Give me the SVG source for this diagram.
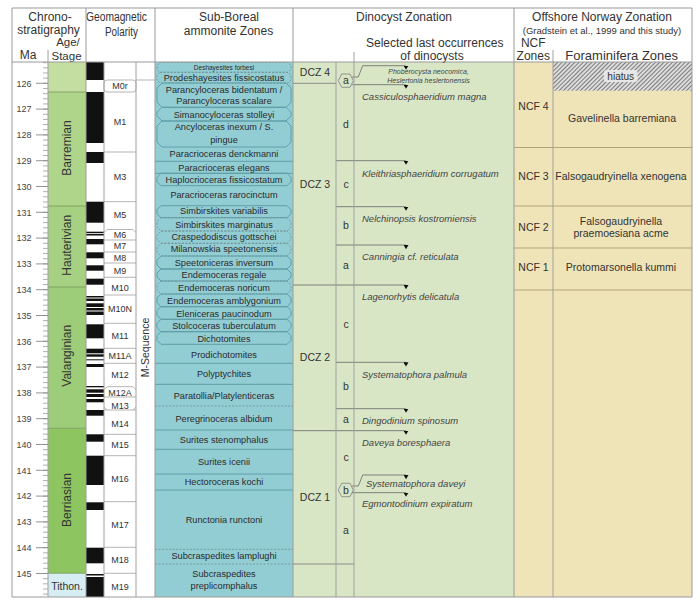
<svg xmlns="http://www.w3.org/2000/svg" width="700" height="607" viewBox="0 0 700 607">
<defs>
<style>
text{font-family:"Liberation Sans",Arial,sans-serif;fill:#333}
.h{font-size:12px;text-anchor:middle}
.ma{font-size:9px;text-anchor:middle;fill:#444}
.st{font-size:12px;text-anchor:middle}
.mc{font-size:9px;text-anchor:middle}
.am{font-size:9.2px;text-anchor:middle;fill:#2a2a2a}
.dz{font-size:10.5px;text-anchor:middle}
.sp{font-size:9.5px;font-style:italic;fill:#444}
.nc{font-size:10.5px;text-anchor:middle}
.grid{stroke:#9a9a9a;stroke-width:1;fill:none}
.zl{stroke:#5f9ea7;stroke-width:1;fill:none}
.zd{stroke:#6f8f93;stroke-width:0.8;stroke-dasharray:2 1.5;fill:none}
.ar{stroke:#666;stroke-width:0.8;fill:none}
.mb{stroke:#b5b5b5;stroke-width:1;fill:none}
.sb{stroke:#76985a;stroke-width:0.8}
.nb{stroke:#b3a57a;stroke-width:1}
</style>
<marker id="tri" markerUnits="userSpaceOnUse" viewBox="0 0 6 6" markerWidth="5" markerHeight="5" refX="3" refY="0" orient="auto"><path d="M0 0H6L3 5Z" fill="#111"/></marker>
<pattern id="hatch" patternUnits="userSpaceOnUse" width="3" height="3" patternTransform="rotate(45)"><rect width="3" height="3" fill="#dcdcdc"/><line x1="0.5" y1="0" x2="0.5" y2="3" stroke="#7c7c7c" stroke-width="1"/></pattern>
</defs>
<rect x="0" y="0" width="700" height="607" fill="#fff"/>

<g id="backgrounds">
<rect x="155" y="62" width="138" height="535" fill="#93cdd4"/>
<rect x="293" y="62" width="221" height="535" fill="#d9e6c6"/>
<rect x="514" y="62" width="178" height="535" fill="#efe4b8"/>
<rect x="553" y="62" width="139" height="28.7" fill="url(#hatch)"/>
</g>

<g id="header">
<text class="h" x="50" y="21">Chrono-</text>
<text class="h" x="48.5" y="33.5">stratigraphy</text>
<text x="68" y="46" style="font-size:11.5px;text-anchor:middle">Age/</text>
<text x="66.5" y="59.5" style="font-size:11.5px;text-anchor:middle">Stage</text>
<text class="h" x="28" y="59">Ma</text>
<text class="h" x="116.5" y="21" textLength="61" lengthAdjust="spacingAndGlyphs">Geomagnetic</text>
<text class="h" x="121.5" y="36" textLength="33" lengthAdjust="spacingAndGlyphs">Polarity</text>
<text class="h" x="229" y="21">Sub-Boreal</text>
<text class="h" x="228.5" y="34.5">ammonite Zones</text>
<text class="h" x="404" y="21">Dinocyst Zonation</text>
<text class="h" x="434.7" y="47">Selected last occurrences</text>
<text class="h" x="432" y="59.5">of dinocysts</text>
<text class="h" x="602" y="21">Offshore Norway Zonation</text>
<text x="602" y="33.5" style="font-size:9.5px;text-anchor:middle">(Gradstein et al., 1999 and this study)</text>
<text class="h" x="533.3" y="47">NCF</text>
<text class="h" x="533.3" y="59.5">Zones</text>
<text x="621.7" y="59.5" style="font-size:13px;text-anchor:middle">Foraminifera Zones</text>
</g>

<g id="stages">
<rect x="48" y="62" width="38" height="30" fill="#c3dea0"/>
<rect x="48" y="92" width="38" height="114" fill="#afd58b"/>
<rect x="48" y="206" width="38" height="81" fill="#a6d183"/>
<rect x="48" y="287" width="38" height="141.3" fill="#9dcd79"/>
<rect x="48" y="428.3" width="38" height="145" fill="#8dc660"/>
<rect x="48" y="573.3" width="38" height="23.7" fill="#d6edf4"/>
<path class="sb" d="M48 92H86M48 206H86M48 287H86M48 428.3H86M48 573.3H86"/>
<text class="st" transform="translate(71,148) rotate(-90)">Barremian</text>
<text class="st" transform="translate(71,245.3) rotate(-90)">Hauterivian</text>
<text class="st" transform="translate(71,355.8) rotate(-90)">Valanginian</text>
<text class="st" transform="translate(71,500) rotate(-90)">Berriasian</text>
<text x="67" y="590" style="font-size:10.5px;text-anchor:middle">Tithon.</text>
</g>

<g id="ma-axis">
<path stroke="#999" stroke-width="0.8" fill="none" d="M43 62.66h5m-5 5.16h5m-5 5.16h5m-5 5.16h5m-5 5.16h5m-5 5.16h5m-5 5.16h5m-5 5.16h5m-5 5.16h5m-5 5.16h5m-5 5.16h5
m-5 5.16h5m-5 5.16h5m-5 5.16h5m-5 5.16h5m-5 5.16h5m-5 5.16h5m-5 5.16h5m-5 5.16h5m-5 5.16h5m-5 5.16h5
m-5 5.16h5m-5 5.16h5m-5 5.16h5m-5 5.16h5m-5 5.16h5m-5 5.16h5m-5 5.16h5m-5 5.16h5m-5 5.16h5m-5 5.16h5
m-5 5.16h5m-5 5.16h5m-5 5.16h5m-5 5.16h5m-5 5.16h5m-5 5.16h5m-5 5.16h5m-5 5.16h5m-5 5.16h5m-5 5.16h5
m-5 5.16h5m-5 5.16h5m-5 5.16h5m-5 5.16h5m-5 5.16h5m-5 5.16h5m-5 5.16h5m-5 5.16h5m-5 5.16h5m-5 5.16h5
m-5 5.16h5m-5 5.16h5m-5 5.16h5m-5 5.16h5m-5 5.16h5m-5 5.16h5m-5 5.16h5m-5 5.16h5m-5 5.16h5m-5 5.16h5
m-5 5.16h5m-5 5.16h5m-5 5.16h5m-5 5.16h5m-5 5.16h5m-5 5.16h5m-5 5.16h5m-5 5.16h5m-5 5.16h5m-5 5.16h5
m-5 5.16h5m-5 5.16h5m-5 5.16h5m-5 5.16h5m-5 5.16h5m-5 5.16h5m-5 5.16h5m-5 5.16h5m-5 5.16h5m-5 5.16h5
m-5 5.16h5m-5 5.16h5m-5 5.16h5m-5 5.16h5m-5 5.16h5m-5 5.16h5m-5 5.16h5m-5 5.16h5m-5 5.16h5m-5 5.16h5
m-5 5.16h5m-5 5.16h5m-5 5.16h5m-5 5.16h5m-5 5.16h5m-5 5.16h5m-5 5.16h5m-5 5.16h5m-5 5.16h5m-5 5.16h5
m-5 5.16h5m-5 5.16h5m-5 5.16h5"/>
<path stroke="#888" stroke-width="0.9" fill="none" d="M36 83.3h12m-12 25.8h12m-12 25.8h12m-12 25.8h12m-12 25.8h12m-12 25.8h12m-12 25.8h12m-12 25.8h12m-12 25.8h12m-12 25.8h12m-12 25.8h12m-12 25.8h12m-12 25.8h12m-12 25.8h12m-12 25.8h12m-12 25.8h12m-12 25.8h12m-12 25.8h12m-12 25.8h12m-12 25.8h12"/>
<text class="ma" x="24" y="86.5">126</text>
<text class="ma" x="24" y="112.3">127</text>
<text class="ma" x="24" y="138.1">128</text>
<text class="ma" x="24" y="163.9">129</text>
<text class="ma" x="24" y="189.7">130</text>
<text class="ma" x="24" y="215.5">131</text>
<text class="ma" x="24" y="241.3">132</text>
<text class="ma" x="24" y="267.1">133</text>
<text class="ma" x="24" y="292.9">134</text>
<text class="ma" x="24" y="318.7">135</text>
<text class="ma" x="24" y="344.5">136</text>
<text class="ma" x="24" y="370.3">137</text>
<text class="ma" x="24" y="396.1">138</text>
<text class="ma" x="24" y="421.9">139</text>
<text class="ma" x="24" y="447.7">140</text>
<text class="ma" x="24" y="473.5">141</text>
<text class="ma" x="24" y="499.3">142</text>
<text class="ma" x="24" y="525.1">143</text>
<text class="ma" x="24" y="550.9">144</text>
<text class="ma" x="24" y="576.7">145</text>
</g>

<g id="polarity" fill="#111">
<rect x="86" y="62" width="18" height="18"/>
<rect x="86" y="92" width="18" height="51"/>
<rect x="86" y="152" width="18" height="11"/>
<rect x="86" y="201.7" width="18" height="21"/>
<rect x="86" y="231.7" width="18" height="1.5"/>
<rect x="86" y="234" width="18" height="1.5"/>
<rect x="86" y="239" width="18" height="5.3"/>
<rect x="86" y="252.3" width="18" height="6"/>
<rect x="86" y="265.3" width="18" height="5.4"/>
<rect x="86" y="278.7" width="18" height="6"/>
<rect x="86" y="296" width="18" height="1.5"/>
<rect x="86" y="298.5" width="18" height="2.5"/>
<rect x="86" y="303.3" width="18" height="3.7"/>
<rect x="86" y="308" width="18" height="2.5"/>
<rect x="86" y="311.5" width="18" height="3.5"/>
<rect x="86" y="324.3" width="18" height="14"/>
<rect x="86" y="348.7" width="18" height="4.6"/>
<rect x="86" y="354.3" width="18" height="2.4"/>
<rect x="86" y="359.3" width="18" height="1"/>
<rect x="86" y="364" width="18" height="3"/>
<rect x="86" y="386" width="18" height="1.3"/>
<rect x="86" y="389.3" width="18" height="3.4"/>
<rect x="86" y="394" width="18" height="3"/>
<rect x="86" y="399" width="18" height="3.3"/>
<rect x="86" y="410" width="18" height="5.7"/>
<rect x="86" y="434.3" width="18" height="7.4"/>
<rect x="86" y="455.7" width="18" height="29.3"/>
<rect x="86" y="502.3" width="18" height="7.7"/>
<rect x="86" y="547.7" width="18" height="15.6"/>
<rect x="86" y="574" width="18" height="1.5"/>
<rect x="86" y="577" width="18" height="20"/>
</g>

<g id="chrons">
<rect class="mb" x="104" y="80" width="32" height="12" rx="3"/>
<path class="mb" d="M104 152H136M104 201.7H136M104 240H136M104 252H136M104 263H136M104 277.3H136M104 295H136M104 323.3H136M104 348.3H136M104 363.3H136M104 410H136M104 434.3H136M104 455.7H136M104 501.7H136M104 547.3H136M104 573.3H136"/>
<path class="mb" d="M104 232.5L107 229.5H133L136 232.5M104 389.7L107 386.7H133L136 389.7M104 397H136M104 407L107 410M136 407L133 410"/>
<path stroke="#b5b5b5" d="M136 80H155"/>
<text class="mc" x="120" y="89.2">M0r</text>
<text class="mc" x="120" y="125">M1</text>
<text class="mc" x="120" y="180">M3</text>
<text class="mc" x="120" y="218.2">M5</text>
<text class="mc" x="120" y="237.7">M6</text>
<text class="mc" x="120" y="249">M7</text>
<text class="mc" x="120" y="260.5">M8</text>
<text class="mc" x="120" y="274.2">M9</text>
<text class="mc" x="120" y="290.5">M10</text>
<text class="mc" x="120" y="312.2">M10N</text>
<text class="mc" x="120" y="338.5">M11</text>
<text class="mc" x="120" y="359">M11A</text>
<text class="mc" x="120" y="378.2">M12</text>
<text class="mc" x="120" y="395.5">M12A</text>
<text class="mc" x="120" y="408.5">M13</text>
<text class="mc" x="120" y="426.5">M14</text>
<text class="mc" x="120" y="448.2">M15</text>
<text class="mc" x="120" y="481.5">M16</text>
<text class="mc" x="120" y="528.2">M17</text>
<text class="mc" x="120" y="563.2">M18</text>
<text class="mc" x="120" y="590">M19</text>
<text transform="translate(148.7,347.5) rotate(-90)" style="font-size:10.5px;text-anchor:middle">M-Sequence</text>
</g>

<g id="ammonites">
<path class="zd" d="M160 62.5H288L291 65.5V69.3L288 72.3H160L157 69.3V65.5Z"/>
<path class="zd" d="M160 72.3H288L291 75.3V80L288 83H160L157 80V75.3Z"/>
<path class="zl" d="M162 83H286L291 88V102.3L286 107.3H162L157 102.3V88Z"/>
<path class="zl" d="M162 107.3H286L291 112.3V116L286 121H162L157 116V112.3Z"/>
<path class="zl" d="M162 121H286L291 126V142L286 147H162L157 142V126Z"/>
<path class="zl" d="M155 161.3H293M155 173.3H293"/>
<path class="zl" d="M161 173.3H287L291 177.3V181.7L287 185.7H161L157 181.7V177.3Z"/>
<path class="zl" d="M161 205.7H287L291 209.7V213.7L287 217.7H161L157 213.7V209.7Z"/>
<path class="zd" d="M161 217.7H287L291 221.7V227L287 231H161L157 227V221.7Z"/>
<path class="zd" d="M161 231H287L291 235V239.3L287 243.3H161L157 239.3V235Z"/>
<path class="zd" d="M161 243.3H287L291 247.3V252L287 256H161L157 252V247.3Z"/>
<path class="zl" d="M161 256H287L291 260V265L287 269H161L157 265V260Z"/>
<path class="zl" d="M161 269H287L291 273V277L287 281H161L157 277V273Z"/>
<path class="zd" d="M161 281H287L291 285V290L287 294H161L157 290V285Z"/>
<path class="zl" d="M161 294H287L291 298V302.7L287 306.7H161L157 302.7V298Z"/>
<path class="zl" d="M161 306.7H287L291 310.7V315.3L287 319.3H161L157 315.3V310.7Z"/>
<path class="zl" d="M161 319.3H287L291 323.3V327.7L287 331.7H161L157 327.7V323.3Z"/>
<path class="zl" d="M161 331.7H287L291 335.7V340.3L287 344.3H161L157 340.3V335.7Z"/>
<path class="zl" d="M155 363.3H293M155 384.3H293M155 430H293M155 449.3H293M155 474H293M155 490H293"/>
<path class="zd" d="M155 406H293M155 549.3H293M155 564H293"/>
<text x="224" y="69.8" style="font-size:6.5px;text-anchor:middle;fill:#2a2a2a">Deshayesites forbesi</text>
<text class="am" x="224" y="80.6">Prodeshayesites fissicostatus</text>
<text class="am" x="224" y="92.6">Parancyloceras bidentatum /</text>
<text class="am" x="224" y="104.3">Parancyloceras scalare</text>
<text class="am" x="224" y="118.3">Simanocyloceras stolleyi</text>
<text class="am" x="224" y="130.3">Ancyloceras inexum / S.</text>
<text class="am" x="224" y="143.3">pingue</text>
<text class="am" x="224" y="157.3">Paracrioceras denckmanni</text>
<text class="am" x="224" y="171">Paracrioceras elegans</text>
<text class="am" x="224" y="183.3">Haplocrioceras fissicostatum</text>
<text class="am" x="224" y="197.6">Paracrioceras rarocinctum</text>
<text class="am" x="224" y="214.3">Simbirskites variabilis</text>
<text class="am" x="224" y="227.6">Simbirskites marginatus</text>
<text class="am" x="224" y="240.3">Craspedodiscus gottschei</text>
<text class="am" x="224" y="252.3">Milanowskia speetonensis</text>
<text class="am" x="224" y="265.6">Speetoniceras inversum</text>
<text class="am" x="224" y="278.3">Endemoceras regale</text>
<text class="am" x="224" y="291">Endemoceras noricum</text>
<text class="am" x="224" y="304.3">Endemoceras amblygonium</text>
<text class="am" x="224" y="316.6">Eleniceras paucinodum</text>
<text class="am" x="224" y="329">Stolcoceras tuberculatum</text>
<text class="am" x="224" y="342.3">Dichotomites</text>
<text class="am" x="224" y="357.6">Prodichotomites</text>
<text class="am" x="224" y="377.3">Polyptychites</text>
<text class="am" x="224" y="399">Paratollia/Platylenticeras</text>
<text class="am" x="224" y="421.6">Peregrinoceras albidum</text>
<text class="am" x="224" y="443.3">Surites stenomphalus</text>
<text class="am" x="224" y="465">Surites icenii</text>
<text class="am" x="224" y="485.3">Hectoroceras kochi</text>
<text class="am" x="224" y="523.3">Runctonia runctoni</text>
<text class="am" x="224" y="559.3">Subcraspedites lamplughi</text>
<text class="am" x="224" y="576.6">Subcraspedites</text>
<text class="am" x="224" y="588.6">preplicomphalus</text>
</g>

<g id="dinocysts">
<path stroke="#8a8a8a" stroke-width="1" d="M293 83.3H336M293 564H354"/>
<path stroke="#8a8a8a" stroke-width="0.9" fill="#d9e6c6" d="M338.3 80.7L341.7 74H350L353.3 80.7L350 87.3H341.7Z"/>
<path stroke="#8a8a8a" stroke-width="0.9" fill="#d9e6c6" d="M338.3 490L341.7 483.3H350L353.3 490L350 496.7H341.7Z"/>
<text class="dz" x="315" y="76.4">DCZ 4</text>
<text class="dz" x="315" y="187.7">DCZ 3</text>
<text class="dz" x="315" y="361">DCZ 2</text>
<text class="dz" x="315" y="501">DCZ 1</text>
<text class="dz" x="346" y="84">a</text>
<text class="dz" x="346" y="127.7">d</text>
<text class="dz" x="346" y="187.7">c</text>
<text class="dz" x="346" y="229.4">b</text>
<text class="dz" x="346" y="268.7">a</text>
<text class="dz" x="346" y="327.7">c</text>
<text class="dz" x="346" y="389.7">b</text>
<text class="dz" x="346" y="423">a</text>
<text class="dz" x="346" y="460.7">c</text>
<text class="dz" x="346" y="494.2">b</text>
<text class="dz" x="346" y="534.4">a</text>
<text x="428.5" y="74.2" style="font-size:7px;font-style:italic;text-anchor:middle;fill:#444">Phoberocysta neocomica,</text>
<text x="428.5" y="82.6" style="font-size:7px;font-style:italic;text-anchor:middle;fill:#444">Heslertonia heslertonensis</text>
<text class="sp" x="362" y="100">Cassiculosphaeridium magna</text>
<text class="sp" x="362" y="177.3">Kleithriasphaeridium corrugatum</text>
<text class="sp" x="362" y="222.3">Nelchinopsis kostromiensis</text>
<text class="sp" x="362" y="260">Canningia cf. reticulata</text>
<text class="sp" x="362" y="300.3">Lagenorhytis delicatula</text>
<text class="sp" x="362" y="378.3">Systematophora palmula</text>
<text class="sp" x="362" y="424">Dingodinium spinosum</text>
<text class="sp" x="362" y="446">Daveya boresphaera</text>
<text class="sp" x="366" y="487.3">Systematophora daveyi</text>
<text class="sp" x="362" y="507.3">Egmontodinium expiratum</text>
</g>

<g id="connectors" class="ar" marker-end="url(#tri)">
<polyline points="352,77 358.3,77 362.7,65.7 406,65.7"/>
<polyline points="352,84.7 406,84.7"/>
<polyline points="336,160.7 406,160.7"/>
<polyline points="336,206.7 406,206.7"/>
<polyline points="336,245 406,245"/>
<polyline points="293,285 406,285"/>
<polyline points="336,362.3 406,362.3"/>
<polyline points="336,408.7 406,408.7"/>
<polyline points="293,430.7 406,430.7"/>
<polyline points="352,486 358.3,486 362.7,475 406,475"/>
<polyline points="352,492.7 406,492.7"/>
</g>

<g id="ncf">
<path class="nb" d="M514 147.5H692M514 206H692M514 248H692M514 290H692"/>
<rect x="604" y="70" width="33.5" height="12" rx="2" fill="#e6e6e6"/>
<text x="620.7" y="79.5" style="font-size:10px;text-anchor:middle">hiatus</text>
<text class="nc" x="533.5" y="109.7">NCF 4</text>
<text class="nc" x="622" y="122">Gavelinella barremiana</text>
<text class="nc" x="533.5" y="179.7">NCF 3</text>
<text class="nc" x="621" y="179.7">Falsogaudryinella xenogena</text>
<text class="nc" x="533.5" y="230.7">NCF 2</text>
<text class="nc" x="621" y="224.7">Falsogaudryinella</text>
<text class="nc" x="621" y="237">praemoesiana acme</text>
<text class="nc" x="533.5" y="270.7">NCF 1</text>
<text class="nc" x="621" y="270.7">Protomarsonella kummi</text>
</g>

<g id="grid" class="grid">
<path d="M12 8H692V597H12Z"/>
<path d="M12 62H692"/>
<path d="M86 8V597M155 8V597M293 8V597M514 8V597"/>
<path d="M48 50V597M104 62V597M136 62V597M336 62V597M354 52V597M553 50V597" stroke="#a0a0a0"/>
</g>
</svg>
